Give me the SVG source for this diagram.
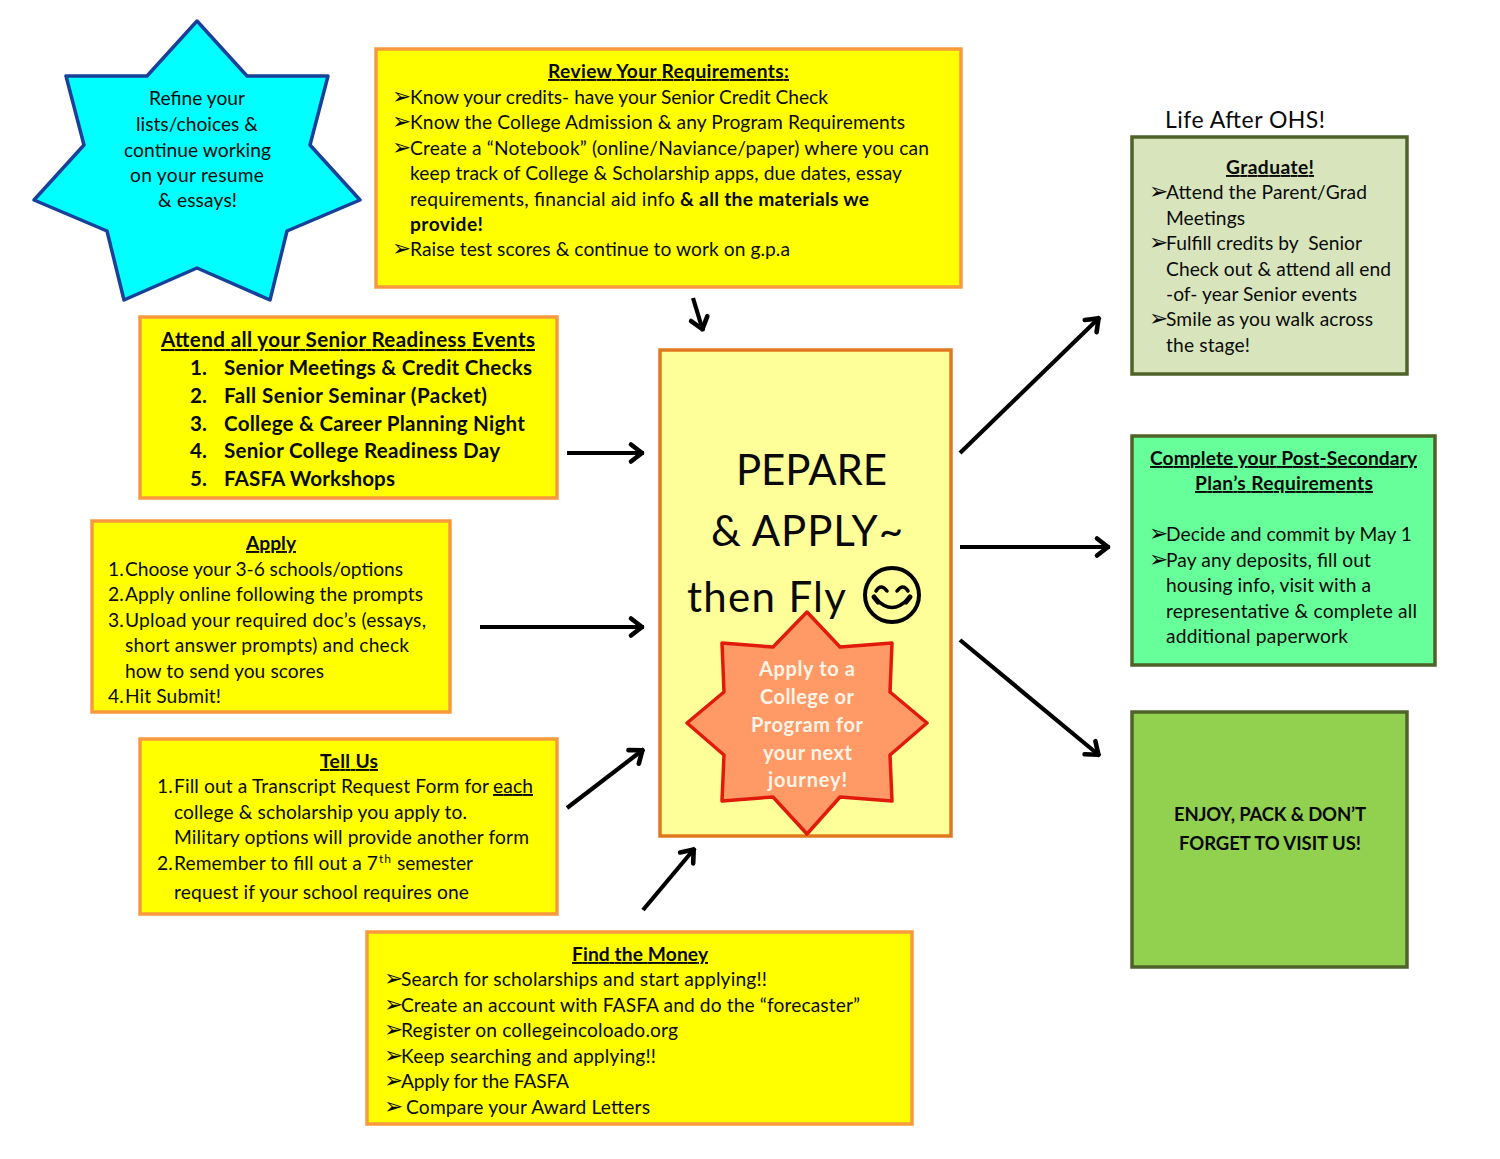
<svg xmlns="http://www.w3.org/2000/svg" width="1500" height="1159" viewBox="0 0 1500 1159">
<defs>
<marker id="ah" markerUnits="userSpaceOnUse" markerWidth="26" markerHeight="24" refX="21" refY="12" orient="auto">
<path d="M8 3.5 L19 12 L8 20.5" fill="none" stroke="#000" stroke-width="4.6" stroke-linecap="round" stroke-linejoin="round"/>
</marker>
</defs>
<style>
text{font-family:"Lato","Liberation Sans",sans-serif;font-size:19.2px;fill:#0a0a0a}
.box{fill:#ffff00;stroke:#f79a3e;stroke-width:3.5}
.t{font-weight:700;text-decoration:underline}
.b{font-weight:700}
.big{font-weight:700;font-size:20.6px}
.bu{font-family:"DejaVu Sans",sans-serif;font-size:23px}
.h{font-size:42px}
.w{fill:#fdf4e6;font-weight:700;font-size:20px}
.grn{stroke:#4f6228;stroke-width:3.5}
.c line{stroke:#000;stroke-width:4.2;marker-end:url(#ah)}
</style>
<rect width="1500" height="1159" fill="#fff"/>

<g id="star-refine">
<polygon points="197,21 247,76 328,76 310,145 360,200 287,231 270,300 197,268 124,300 107,231 34,200 84,145 66,76 147,76" fill="#00ffff" stroke="#17409a" stroke-width="3.5" stroke-linejoin="round"/>
<text x="149" y="105" textLength="96">Refine your</text>
<text x="136" y="131" textLength="122">lists/choices &amp;</text>
<text x="124" y="156.500" textLength="147">continue working</text>
<text x="130" y="182" textLength="134">on your resume</text>
<text x="158" y="207" textLength="79">&amp; essays!</text>
</g>

<g id="review">
<rect class="box" x="376" y="49" width="585" height="238"/>
<text class="t" x="548" y="78" textLength="241">Review Your Requirements:</text>
<text class="bu" x="392" y="104">➢</text><text x="410" y="104" textLength="418">Know your credits- have your Senior Credit Check</text>
<text class="bu" x="392" y="129">➢</text><text x="410" y="129" textLength="495">Know the College Admission &amp; any Program Requirements</text>
<text class="bu" x="392" y="155">➢</text><text x="410" y="155" textLength="519">Create a “Notebook” (online/Naviance/paper) where you can</text>
<text x="410" y="180" textLength="492">keep track of College &amp; Scholarship apps, due dates, essay</text>
<text x="410" y="206" textLength="265">requirements, financial aid info</text><text class="b" x="680" y="206" textLength="189">&amp; all the materials we</text>
<text class="b" x="410" y="231" textLength="73">provide!</text>
<text class="bu" x="392" y="256">➢</text><text x="410" y="256" textLength="380">Raise test scores &amp; continue to work on g.p.a</text>
</g>

<g id="attend">
<rect class="box" x="140" y="317" width="417" height="181"/>
<text class="big t" x="161" y="347" textLength="374">Attend all your Senior Readiness Events</text>
<text class="big" x="190" y="375">1.</text><text class="big" x="224" y="375" textLength="308">Senior Meetings &amp; Credit Checks</text>
<text class="big" x="190" y="403">2.</text><text class="big" x="224" y="403" textLength="263">Fall Senior Seminar (Packet)</text>
<text class="big" x="190" y="431">3.</text><text class="big" x="224" y="431" textLength="301">College &amp; Career Planning Night</text>
<text class="big" x="190" y="458">4.</text><text class="big" x="224" y="458" textLength="276">Senior College Readiness Day</text>
<text class="big" x="190" y="486">5.</text><text class="big" x="224" y="486" textLength="171">FASFA Workshops</text>
</g>

<g id="apply">
<rect class="box" x="92" y="521" width="358" height="191"/>
<text class="t" x="246" y="550" textLength="50">Apply</text>
<text x="108" y="576">1.</text><text x="125" y="576" textLength="278">Choose your 3-6 schools/options</text>
<text x="108" y="601">2.</text><text x="125" y="601" textLength="298">Apply online following the prompts</text>
<text x="108" y="627">3.</text><text x="125" y="627" textLength="301">Upload your required doc’s (essays,</text>
<text x="125" y="652" textLength="284">short answer prompts) and check</text>
<text x="125" y="678" textLength="199">how to send you scores</text>
<text x="108" y="703">4.</text><text x="125" y="703" textLength="96">Hit Submit!</text>
</g>

<g id="tell-us">
<rect class="box" x="140" y="739" width="417" height="175"/>
<text class="t" x="320" y="768" textLength="58">Tell Us</text>
<text x="157" y="793">1.</text><text x="174" y="793" textLength="315">Fill out a Transcript Request Form for</text><text x="493" y="793" textLength="40" text-decoration="underline">each</text>
<text x="174" y="819" textLength="293">college &amp; scholarship you apply to.</text>
<text x="174" y="844" textLength="355">Military options will provide another form</text>
<text x="157" y="870">2.</text><text x="174" y="870" textLength="204">Remember to fill out a 7</text><text x="379" y="863" style="font-size:12px" textLength="12">th</text><text x="397" y="870" textLength="76">semester</text>
<text x="174" y="899" textLength="295">request if your school requires one</text>
</g>

<g id="money">
<rect class="box" x="367" y="932" width="545" height="192"/>
<text class="t" x="572" y="961" textLength="136">Find the Money</text>
<text class="bu" x="384" y="986">➢</text><text x="401" y="986" textLength="366">Search for scholarships and start applying!!</text>
<text class="bu" x="384" y="1012">➢</text><text x="401" y="1012" textLength="459">Create an account with FASFA and do the “forecaster”</text>
<text class="bu" x="384" y="1037">➢</text><text x="401" y="1037" textLength="277">Register on collegeincoloado.org</text>
<text class="bu" x="384" y="1063">➢</text><text x="401" y="1063" textLength="255">Keep searching and applying!!</text>
<text class="bu" x="384" y="1088">➢</text><text x="401" y="1088" textLength="168">Apply for the FASFA</text>
<text class="bu" x="384" y="1114">➢</text><text x="406" y="1114" textLength="244">Compare your Award Letters</text>
</g>

<g id="prepare">
<rect x="660" y="350" width="291" height="486" fill="#ffff99" stroke="#e0781e" stroke-width="3.5"/>
<text class="h" x="736" y="485" textLength="151">PEPARE</text>
<text class="h" x="711" y="546" textLength="192">&amp; APPLY~</text>
<text class="h" x="687" y="612" textLength="159">then Fly</text>
<circle cx="892" cy="595" r="27" fill="none" stroke="#000" stroke-width="4"/>
<path d="M876 591 Q881 583 887 591 M897 591 Q903 583 908 591" fill="none" stroke="#000" stroke-width="3.5" stroke-linecap="round"/>
<path d="M876 599 Q892 616 908 599" fill="none" stroke="#000" stroke-width="3.5" stroke-linecap="round"/>
<path d="M874 597 L878 602 M910 597 L906 602" stroke="#000" stroke-width="5" stroke-linecap="round"/>
</g>

<g id="star-apply">
<polygon points="807,612 773,647 722,643 724,692 687,723 724,755 722,801 773,797 807,834 840,797 892,801 890,755 927,723 890,692 892,643 840,647" fill="#ff9966" stroke="#e01b0c" stroke-width="3.5" stroke-linejoin="round"/>
<text class="w" x="759" y="676" textLength="96">Apply to a</text>
<text class="w" x="760" y="704" textLength="94">College or</text>
<text class="w" x="751" y="732" textLength="112">Program for</text>
<text class="w" x="763" y="760" textLength="89">your next</text>
<text class="w" x="768" y="787" textLength="79">journey!</text>
</g>

<g id="life-title"><text x="1165" y="127.500" style="font-size:23px" textLength="160">Life After OHS!</text></g>

<g id="graduate">
<rect class="grn" x="1132" y="137" width="275" height="237" fill="#d7e4bc"/>
<text class="t" x="1226" y="174" textLength="88">Graduate!</text>
<text class="bu" x="1149" y="199">➢</text><text x="1166" y="199" textLength="201">Attend the Parent/Grad</text>
<text x="1166" y="225" textLength="79">Meetings</text>
<text class="bu" x="1149" y="250">➢</text><text x="1166" y="250" textLength="196" xml:space="preserve">Fulfill credits by  Senior</text>
<text x="1166" y="275.500" textLength="225">Check out &amp; attend all end</text>
<text x="1166" y="301" textLength="191">-of- year Senior events</text>
<text class="bu" x="1149" y="326">➢</text><text x="1166" y="326" textLength="207">Smile as you walk across</text>
<text x="1166" y="352" textLength="84">the stage!</text>
</g>

<g id="plan">
<rect class="grn" x="1132" y="436" width="303" height="229" fill="#66ff99"/>
<text class="t" x="1150" y="465" textLength="267">Complete your Post-Secondary</text>
<text class="t" x="1195" y="490" textLength="178">Plan’s Requirements</text>
<text class="bu" x="1149" y="541">➢</text><text x="1166" y="541" textLength="246">Decide and commit by May 1</text>
<text class="bu" x="1149" y="566.500">➢</text><text x="1166" y="566.500" textLength="205">Pay any deposits, fill out</text>
<text x="1166" y="592" textLength="205">housing info, visit with a</text>
<text x="1166" y="617.500" textLength="251">representative &amp; complete all</text>
<text x="1166" y="643" textLength="182">additional paperwork</text>
</g>

<g id="enjoy">
<rect class="grn" x="1132" y="712" width="275" height="255" fill="#92d050"/>
<text class="b" x="1174" y="821" style="font-size:18.5px" textLength="192">ENJOY, PACK &amp; DON’T</text>
<text class="b" x="1179" y="850" style="font-size:18.5px" textLength="182">FORGET TO VISIT US!</text>
</g>

<g id="connectors" class="c">
<line x1="693" y1="298" x2="703" y2="331"/>
<line x1="567" y1="453" x2="644" y2="453"/>
<line x1="480" y1="627" x2="644" y2="627"/>
<line x1="567" y1="808" x2="644" y2="749"/>
<line x1="643" y1="910" x2="695" y2="848"/>
<line x1="960" y1="453" x2="1100" y2="317"/>
<line x1="960" y1="547" x2="1110" y2="547"/>
<line x1="960" y1="640" x2="1100" y2="756"/>
</g>
</svg>
